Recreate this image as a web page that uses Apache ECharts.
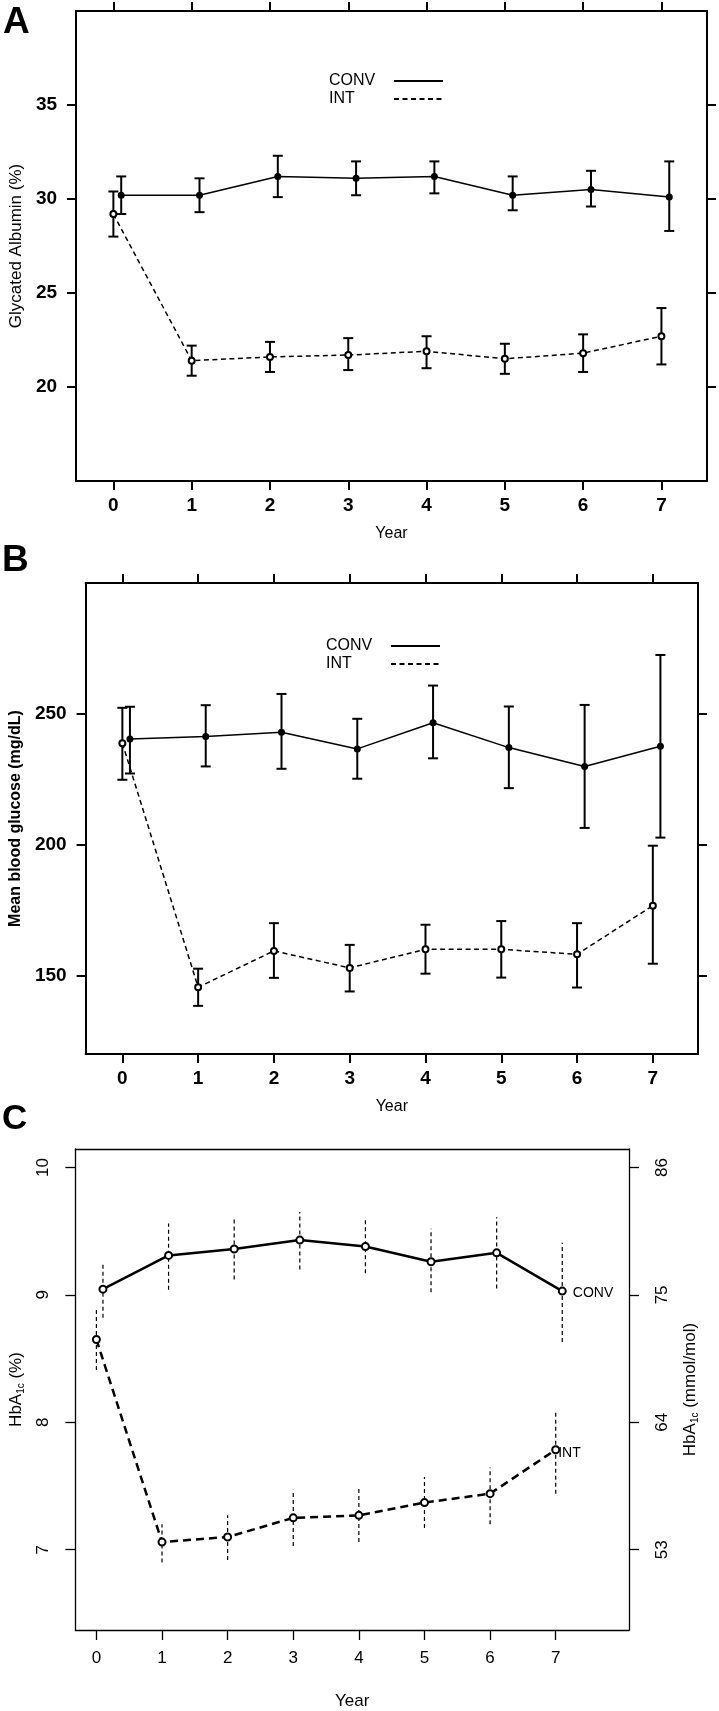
<!DOCTYPE html>
<html><head><meta charset="utf-8">
<script src="https://cdn.jsdelivr.net/npm/echarts@6/dist/echarts.min.js"></script>
<style>html,body{margin:0;padding:0;background:#fff}#c{width:719px;height:1711px}</style>
</head><body><div id="c"></div>
<script>
// ---------- data ----------
const years = [0, 1, 2, 3, 4, 5, 6, 7];
// Panel A: Glycated albumin (%)
const gaConvMean = [30.2, 30.2, 31.2, 31.1, 31.2, 30.2, 30.5, 30.1];
const gaConvLow  = [29.2, 29.3, 30.1, 30.2, 30.3, 29.4, 29.6, 28.3];
const gaConvHigh = [31.2, 31.1, 32.3, 32.0, 32.0, 31.2, 31.5, 32.0];
const gaIntMean  = [29.2, 21.4, 21.6, 21.7, 21.9, 21.5, 21.8, 22.7];
const gaIntLow   = [28.0, 20.6, 20.8, 20.9, 21.0, 20.7, 20.8, 21.2];
const gaIntHigh  = [30.4, 22.2, 22.4, 22.6, 22.7, 22.3, 22.8, 24.2];
const gaTicks = [20, 25, 30, 35];
// Panel B: Mean blood glucose (mg/dL)
const mbgConvMean = [240.4, 241.3, 243.0, 236.6, 246.6, 237.1, 229.9, 237.6];
const mbgConvLow  = [227.2, 229.9, 229.0, 225.2, 233.0, 221.6, 206.4, 202.7];
const mbgConvHigh = [252.7, 253.3, 257.6, 248.1, 260.8, 252.8, 253.4, 272.5];
const mbgIntMean  = [238.8, 145.5, 159.4, 152.9, 160.0, 160.0, 158.1, 176.7];
const mbgIntLow   = [224.8, 138.4, 149.1, 143.9, 150.7, 149.2, 145.4, 154.5];
const mbgIntHigh  = [252.3, 152.6, 170.0, 161.7, 169.4, 170.8, 170.0, 199.6];
const mbgTicks = [150, 200, 250];
// Panel C: HbA1c (%)
const hbConvMean = [9.045, 9.31, 9.36, 9.43, 9.38, 9.26, 9.33, 9.03];
const hbConvLow  = [8.82, 9.04, 9.12, 9.20, 9.17, 9.02, 9.05, 8.63];
const hbConvHigh = [9.25, 9.56, 9.61, 9.65, 9.59, 9.52, 9.61, 9.41];
const hbIntMean  = [8.65, 7.06, 7.10, 7.25, 7.27, 7.37, 7.44, 7.785];
const hbIntLow   = [8.41, 6.90, 6.92, 7.03, 7.06, 7.17, 7.20, 7.44];
const hbIntHigh  = [8.90, 7.20, 7.27, 7.47, 7.48, 7.57, 7.645, 8.09];
const hbTicks = [7, 8, 9, 10];
const mmolTicks = [53, 64, 75, 86];   // same positions as 7, 8, 9, 10 %

// ---------- layout / style ----------
const DODGE = 0.1;
const FONT = "'Liberation Sans', Arial, Helvetica, sans-serif";
const NARROW = "'Liberation Sans Narrow', 'Arial Narrow', 'Liberation Sans', Arial, sans-serif";
const BLACK = '#000';
const pctToMmol = v => 53 + (v - 7) * 11;

const A = { x: [-0.477, 7.582], y: [15, 40] };
const B = { x: [-0.485, 7.596], y: [120, 300] };
const C = { x: [-0.32, 8.117], y: [6.37, 10.145] };

function errRender(capHalf, lw, dash) {
  return function (params, api) {
    const x = api.value(0);
    const a = api.coord([x, api.value(1)]);
    const b = api.coord([x, api.value(2)]);
    const st = () => ({ stroke: BLACK, lineWidth: lw, lineDash: dash || null, fill: null });
    const ch = [{ type: 'line', shape: { x1: a[0], y1: a[1], x2: b[0], y2: b[1] }, style: st() }];
    if (capHalf) {
      ch.push({ type: 'line', shape: { x1: a[0] - capHalf, y1: a[1], x2: a[0] + capHalf, y2: a[1] }, style: st() });
      ch.push({ type: 'line', shape: { x1: b[0] - capHalf, y1: b[1], x2: b[0] + capHalf, y2: b[1] }, style: st() });
    }
    return { type: 'group', children: ch };
  };
}
const pts = (xs, ys, dx) => xs.map((x, i) => [x + dx, ys[i]]);
const errPts = (xs, lo, hi, dx) => xs.map((x, i) => [x + dx, lo[i], hi[i]]);
function withEndLabel(p, text, dist, offY) {
  return p.map((v, i) => i === p.length - 1 ? {
    value: v,
    label: { show: true, formatter: text, position: 'right', distance: dist, offset: [0, offY],
             color: BLACK, fontSize: 14, fontFamily: FONT }
  } : v);
}

function bottomX(g, r, o) {
  return {
    type: 'value', gridIndex: g, min: r[0], max: r[1], position: 'bottom',
    axisLine: { onZero: false, lineStyle: { color: BLACK, width: o.frame } },
    axisTick: { customValues: years, length: o.tick, lineStyle: { color: BLACK, width: o.frame } },
    axisLabel: { customValues: years, color: BLACK, fontSize: o.tickFont, fontWeight: o.bold, fontFamily: o.tickFamily, margin: o.xMargin },
    splitLine: { show: false },
    name: 'Year', nameLocation: 'middle', nameGap: o.xNameGap,
    nameTextStyle: { color: BLACK, fontSize: o.xNameSize, fontFamily: FONT }
  };
}
function topX(g, r, o) {
  return {
    type: 'value', gridIndex: g, min: r[0], max: r[1], position: 'top',
    axisLine: { onZero: false, lineStyle: { color: BLACK, width: o.frame } },
    axisTick: { show: o.topTicks, customValues: years, length: o.tick, lineStyle: { color: BLACK, width: o.frame } },
    axisLabel: { show: false }, splitLine: { show: false }
  };
}
function sideY(g, r, pos, ticks, o, extra) {
  return Object.assign({
    type: 'value', gridIndex: g, min: r[0], max: r[1], position: pos,
    axisLine: { onZero: false, lineStyle: { color: BLACK, width: o.frame } },
    axisTick: { customValues: ticks, length: o.tick, lineStyle: { color: BLACK, width: o.frame } },
    axisLabel: { show: false },
    splitLine: { show: false }
  }, extra || {});
}

const abStyle = { frame: 2, tick: 9, bold: 'bold', tickFont: 19, tickFamily: NARROW, xMargin: 15, xNameGap: 45, xNameSize: 16, topTicks: true };
const cStyle = { frame: 1.3, tick: 10, bold: 'normal', tickFont: 17, tickFamily: FONT, xMargin: 20, xNameGap: 63, xNameSize: 17, topTicks: false };

const yLabAB = (ticks) => ({ customValues: ticks, color: BLACK, fontSize: 19, fontWeight: 'bold', fontFamily: NARROW, margin: 19 });

const richHb = {
  a: { fontSize: 17, lineHeight: 20, fontFamily: FONT, color: BLACK },
  s: { fontSize: 10, lineHeight: 8, verticalAlign: 'bottom', fontFamily: FONT, color: BLACK }
};

const xAxis = [
  bottomX(0, A.x, abStyle), topX(0, A.x, abStyle),
  bottomX(1, B.x, abStyle), topX(1, B.x, abStyle),
  bottomX(2, C.x, cStyle), topX(2, C.x, cStyle)
];
const yAxis = [
  sideY(0, A.y, 'left', gaTicks, abStyle, {
    axisLabel: yLabAB(gaTicks),
    name: 'Glycated Albumin (%)', nameLocation: 'middle', nameRotate: 90, nameGap: 50,
    nameTextStyle: { color: BLACK, fontSize: 17, fontFamily: FONT }
  }),
  sideY(0, A.y, 'right', gaTicks, abStyle),
  sideY(1, B.y, 'left', mbgTicks, abStyle, {
    axisLabel: yLabAB(mbgTicks),
    name: 'Mean blood glucose (mg/dL)', nameLocation: 'middle', nameRotate: 90, nameGap: 51,
    nameTextStyle: { color: BLACK, fontSize: 16, fontWeight: 'bold', fontFamily: FONT }
  }),
  sideY(1, B.y, 'right', mbgTicks, abStyle),
  sideY(2, C.y, 'left', hbTicks, cStyle, {
    axisLabel: { customValues: hbTicks, rotate: 90, color: BLACK, fontSize: 17, fontFamily: FONT, margin: 24 },
    name: '{a|HbA}{s|1c}{a| (%)}', nameLocation: 'middle', nameRotate: 90, nameGap: 47,
    nameTextStyle: { rich: richHb }
  }),
  sideY(2, [pctToMmol(C.y[0]), pctToMmol(C.y[1])], 'right', mmolTicks, cStyle, {
    axisLabel: { show: true, customValues: mmolTicks, rotate: 90, color: BLACK, fontSize: 17, fontFamily: FONT, margin: 24.5 },
    name: '{a|HbA}{s|1c}{a| (mmol/mol)}', nameLocation: 'middle', nameRotate: 90, nameGap: 51.5,
    nameTextStyle: { rich: richHb }
  })
];

const series = [];
function addAB(xi, yi, cm, cl, ch, im, il, ih) {
  series.push({ type: 'custom', xAxisIndex: xi, yAxisIndex: yi, renderItem: errRender(5, 2),
    encode: { x: 0, y: [1, 2] }, data: errPts(years, cl, ch, DODGE), z: 2 });
  series.push({ type: 'custom', xAxisIndex: xi, yAxisIndex: yi, renderItem: errRender(5, 2),
    encode: { x: 0, y: [1, 2] }, data: errPts(years, il, ih, 0), z: 2 });
  series.push({ type: 'line', name: 'CONV', xAxisIndex: xi, yAxisIndex: yi, data: pts(years, cm, DODGE),
    symbol: 'circle', symbolSize: 7, itemStyle: { color: BLACK },
    lineStyle: { color: BLACK, width: 1.5 }, z: 3 });
  series.push({ type: 'line', name: 'INT', xAxisIndex: xi, yAxisIndex: yi, data: pts(years, im, 0),
    symbol: 'emptyCircle', symbolSize: 6, itemStyle: { color: BLACK, borderWidth: 1.5 },
    lineStyle: { color: BLACK, width: 1.5, type: [5, 3.5] }, z: 3 });
}
addAB(0, 0, gaConvMean, gaConvLow, gaConvHigh, gaIntMean, gaIntLow, gaIntHigh);
addAB(2, 2, mbgConvMean, mbgConvLow, mbgConvHigh, mbgIntMean, mbgIntLow, mbgIntHigh);

// Panel C
series.push({ type: 'custom', xAxisIndex: 4, yAxisIndex: 4, renderItem: errRender(0, 1.2, [4, 3]),
  encode: { x: 0, y: [1, 2] }, data: errPts(years, hbConvLow, hbConvHigh, DODGE), z: 2 });
series.push({ type: 'custom', xAxisIndex: 4, yAxisIndex: 4, renderItem: errRender(0, 1.2, [4, 3]),
  encode: { x: 0, y: [1, 2] }, data: errPts(years, hbIntLow, hbIntHigh, 0), z: 2 });
series.push({ type: 'line', name: 'CONV HbA1c', xAxisIndex: 4, yAxisIndex: 4,
  data: withEndLabel(pts(years, hbConvMean, DODGE), 'CONV', 6, 2),
  symbol: 'emptyCircle', symbolSize: 7, itemStyle: { color: BLACK, borderWidth: 2 },
  lineStyle: { color: BLACK, width: 2.5 }, z: 3 });
series.push({ type: 'line', name: 'INT HbA1c', xAxisIndex: 4, yAxisIndex: 4,
  data: withEndLabel(pts(years, hbIntMean, 0), 'INT', -2, 3),
  symbol: 'emptyCircle', symbolSize: 7, itemStyle: { color: BLACK, borderWidth: 2 },
  lineStyle: { color: BLACK, width: 2.5, type: [8, 5] }, z: 3 });

const legendBase = {
  data: ['CONV', 'INT'], orient: 'vertical', align: 'right', itemWidth: 49, itemHeight: 2, itemGap: 2,
  padding: 0, selectedMode: false, itemStyle: { opacity: 0 },
  formatter: '{w|{name}}',
  textStyle: { fontSize: 16, color: BLACK, fontFamily: FONT,
    rich: { w: { width: 60, align: 'left', fontSize: 16, color: BLACK, fontFamily: FONT } } }
};

const option = {
  animation: false,
  backgroundColor: '#fff',
  title: [
    { text: 'A', left: 3, top: 4, padding: 0, textStyle: { fontSize: 37, fontWeight: 'bold', color: BLACK, fontFamily: FONT } },
    { text: 'B', left: 2, top: 542, padding: 0, textStyle: { fontSize: 37, fontWeight: 'bold', color: BLACK, fontFamily: FONT } },
    { text: 'C', left: 2, top: 1102, padding: 0, textStyle: { fontSize: 35, fontWeight: 'bold', color: BLACK, fontFamily: FONT } }
  ],
  legend: [
    Object.assign({}, legendBase, { left: 329, top: 73 }),
    Object.assign({}, legendBase, { left: 326, top: 638 })
  ],
  grid: [
    { left: 70, top: 11, width: 637, height: 470 },
    { left: 70, top: 583, width: 628, height: 471 },
    { left: 68, top: 1149, width: 561, height: 481 }
  ],
  xAxis, yAxis, series
};

const chart = echarts.init(document.getElementById('c'));
chart.setOption(option);
</script></body></html>
